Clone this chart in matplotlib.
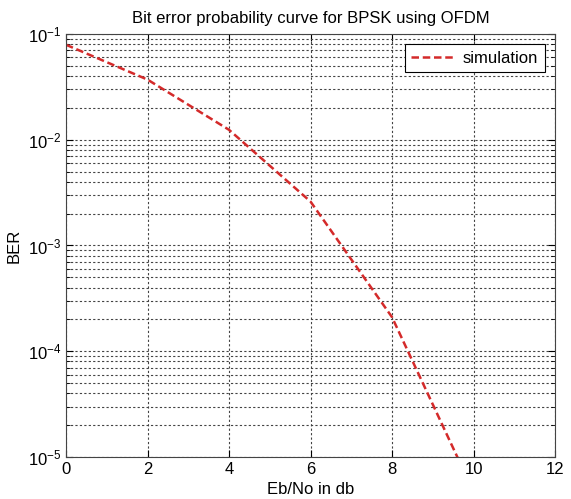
import matplotlib.pyplot as plt
import matplotlib.ticker as mticker

# Eb/No (dB) and simulated BER
ebno = [0, 2, 4, 6, 8, 10]
ber = [0.079, 0.037, 0.0124, 0.0026, 2.1e-4, 4.7e-6]

plt.rcParams['font.family'] = ['Liberation Sans', 'DejaVu Sans']

fig = plt.figure(figsize=(5.71, 4.99), dpi=100)
ax = fig.add_axes([0.1156, 0.0842, 0.8564, 0.8478])

ax.semilogy(ebno, ber, color='#d42a2a', linestyle='--', linewidth=1.8,
            dashes=(3, 1.5), label='simulation')

ax.set_xlim(0, 12)
ax.set_ylim(1e-5, 1e-1)
ax.set_xticks(range(0, 13, 2))
ax.yaxis.set_major_locator(mticker.LogLocator(base=10, numticks=10))
ax.yaxis.set_minor_locator(mticker.LogLocator(base=10, subs=range(2, 10), numticks=20))
ax.yaxis.set_minor_formatter(mticker.NullFormatter())

grid_style = dict(color='#444444', linestyle=(0, (2, 2)), linewidth=0.8)
ax.grid(True, which='major', axis='both', **grid_style)
ax.grid(True, which='minor', axis='y', **grid_style)

ax.tick_params(which='both', direction='in', top=True, right=True, labelsize=12)
ax.tick_params(which='major', length=5)
ax.tick_params(which='minor', length=3)
for s in ax.spines.values():
    s.set_color('#444444')

ax.set_title('Bit error probability curve for BPSK using OFDM', fontsize=12, pad=8)
ax.set_xlabel('Eb/No in db', fontsize=12)
ax.set_ylabel('BER', fontsize=12)

leg = ax.legend(loc='upper right', fontsize=12, fancybox=False, framealpha=1,
                edgecolor='black', handlelength=2.5, handletextpad=0.6,
                borderaxespad=0.6)
leg.get_frame().set_linewidth(0.8)

fig.savefig('out.png', dpi=100)
